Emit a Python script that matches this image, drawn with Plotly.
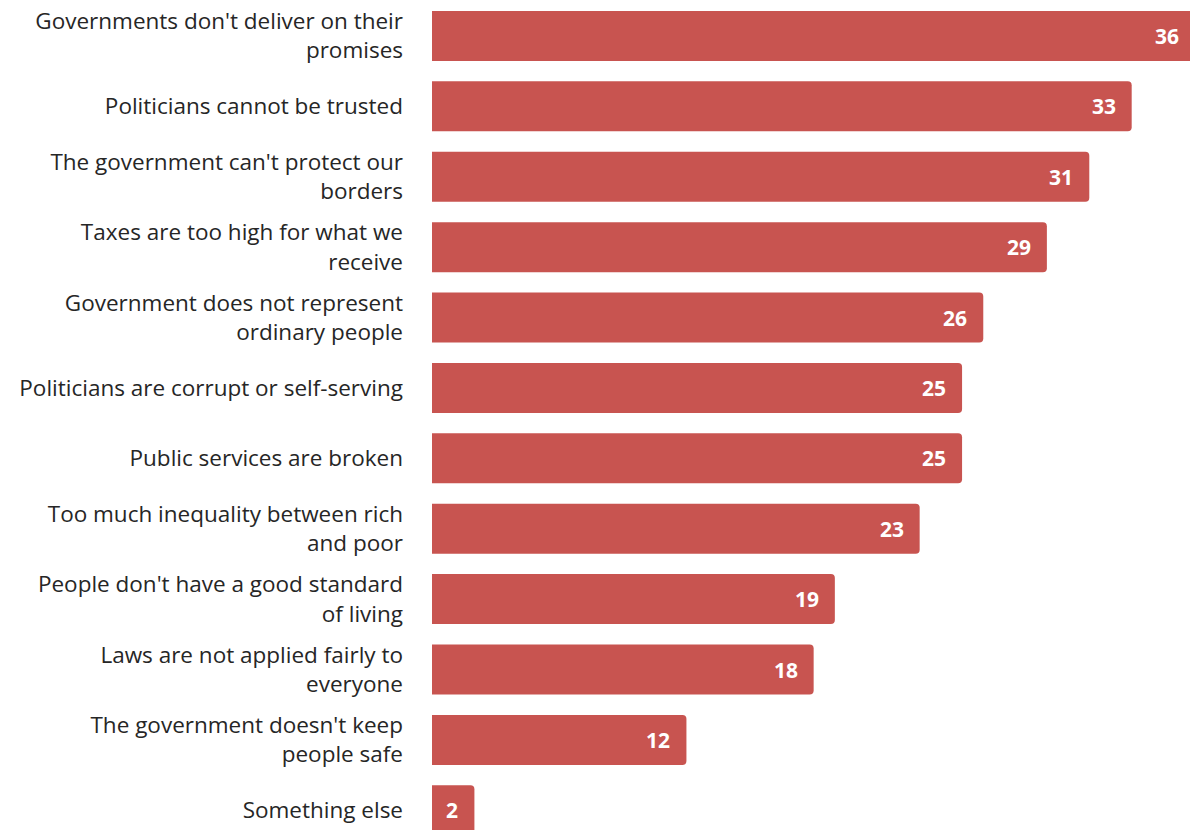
import plotly.graph_objects as go

categories = [
    "Governments don't deliver on their<br>promises",
    "Politicians cannot be trusted",
    "The government can't protect our<br>borders",
    "Taxes are too high for what we<br>receive",
    "Government does not represent<br>ordinary people",
    "Politicians are corrupt or self-serving",
    "Public services are broken",
    "Too much inequality between rich<br>and poor",
    "People don't have a good standard<br>of living",
    "Laws are not applied fairly to<br>everyone",
    "The government doesn't keep<br>people safe",
    "Something else",
]
values = [36, 33, 31, 29, 26, 25, 25, 23, 19, 18, 12, 2]

BAR_COLOR = "#C85450"
FONT = "Open Sans"
X_MAX = 35.75          # right edge of the visible value axis
PX_PER_UNIT = 758 / X_MAX

fig = go.Figure(
    go.Bar(
        x=values,
        y=categories,
        orientation="h",
        marker=dict(color=BAR_COLOR, line=dict(width=0)),
        width=0.71,
        hoverinfo="skip",
    )
)

# value labels near the end of each bar; bars running past the axis edge
# get their label pinned inside the visible area
for cat, val in zip(categories, values):
    pos = min(val, X_MAX)
    shift = -14 + (val - pos) * PX_PER_UNIT
    fig.add_annotation(
        x=pos,
        y=cat,
        text=f"<b>{val}</b>",
        showarrow=False,
        xanchor="right",
        xshift=shift,
        font=dict(family=FONT, size=21, color="white"),
    )

fig.update_layout(
    width=1190,
    height=830,
    margin=dict(l=432, r=0, t=0, b=0),
    paper_bgcolor="white",
    plot_bgcolor="white",
    barcornerradius=4,
    showlegend=False,
    font=dict(family=FONT, size=22.5, color="#262626"),
    xaxis=dict(
        range=[0, X_MAX],
        visible=False,
        fixedrange=True,
    ),
    yaxis=dict(
        range=[11.28, -0.511],
        showgrid=False,
        zeroline=False,
        showline=False,
        ticks="",
        ticklabelstandoff=28,
        tickfont=dict(family=FONT, size=22.5, color="#262626"),
        fixedrange=True,
    ),
)

fig.write_html("out.html")
